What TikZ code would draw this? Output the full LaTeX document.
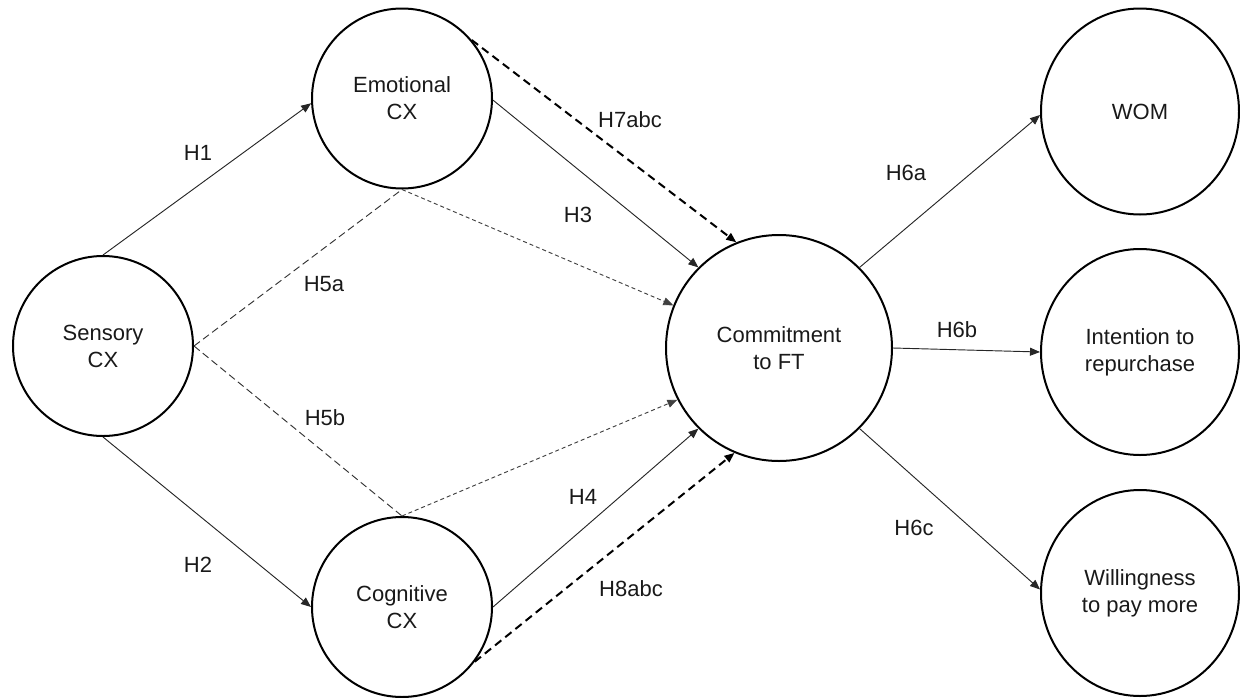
\documentclass[tikz,border=0pt]{standalone}
\usepackage{fontspec}
\setmainfont{Liberation Sans}
\usetikzlibrary{arrows.meta,shapes.geometric}
\tikzset{
  txt/.style={font=\fontsize{16.5}{20.25}\selectfont, text=black!90},
  cx/.style={txt, draw, line width=1.5pt, circle, inner sep=0pt, align=center, minimum size=135pt},
  bigcx/.style={cx, minimum size=169.5pt},
  outcx/.style={txt, draw, line width=1.5pt, ellipse, inner sep=0pt, align=center, minimum width=148.5pt, minimum height=154.5pt},
  lab/.style={txt, inner sep=1pt},
  tip/.style={-{Triangle[length=7.5pt,width=6pt]}},
  solidln/.style={line width=0.7pt, black!85},
  medash/.style={line width=0.7pt, black!80, dash pattern=on 5.5pt off 3pt},
  fine/.style={line width=0.7pt, black!75, dash pattern=on 3pt off 2.2pt},
  thickdash/.style={line width=1.5pt, dash pattern=on 6pt off 3.8pt}
}
\begin{document}
\begin{tikzpicture}[x=0.75pt,y=-0.75pt]
\useasboundingbox (0,0) rectangle (1240,697);
% nodes
\node[cx] (sens) at (103,346) {Sensory\\CX};
\node[cx] (emo) at (402,98.5) {Emotional\\CX};
\node[cx] (cog) at (402,607) {Cognitive\\CX};
\node[bigcx] (com) at (779,348) {Commitment\\to FT};
\node[outcx] (wom) at (1140,111.5) {WOM};
\node[outcx] (rep) at (1140,352) {Intention to\\repurchase};
\node[outcx] (pay) at (1140,593) {Willingness\\to pay more};
% connectors
\draw[solidln, tip] (sens.90) -- (emo.183);
\draw[solidln, tip] (sens.270) -- (cog.180);
\draw[medash] (sens.east) -- (emo.south);
\draw[medash] (sens.east) -- (cog.north);
\draw[fine, tip] (emo.south) -- (com.158);
\draw[fine, tip] (cog.north) -- (com.207.6);
\draw[solidln, tip] (emo.359) -- (com.135);
\draw[solidln, tip] (cog.0) -- (com.225);
\draw[thickdash, tip] (emo.40.6) -- (com.112.5);
\draw[thickdash, tip] (cog.-37) -- (com.247);
\draw[solidln, tip] (com.45) -- (wom.182);
\draw[solidln, tip] (com.0) -- (rep.180);
\draw[solidln, tip] (com.-45) -- (pay.178);
% labels
\node[lab] (lh1) at (198,153) {H1};
\node[lab] (lh2) at (198,565) {H2};
\node[lab] (lh5a) at (324,284) {H5a};
\node[lab] (lh5b) at (325,418) {H5b};
\node[lab] (lh3) at (578,215) {H3};
\node[lab] (lh7) at (630,120) {H7abc};
\node[lab] (lh4) at (583,497) {H4};
\node[lab] (lh8) at (631,589) {H8abc};
\node[lab] (lh6a) at (906,173) {H6a};
\node[lab] (lh6b) at (957,330) {H6b};
\node[lab] (lh6c) at (914,528) {H6c};
\end{tikzpicture}
\end{document}
